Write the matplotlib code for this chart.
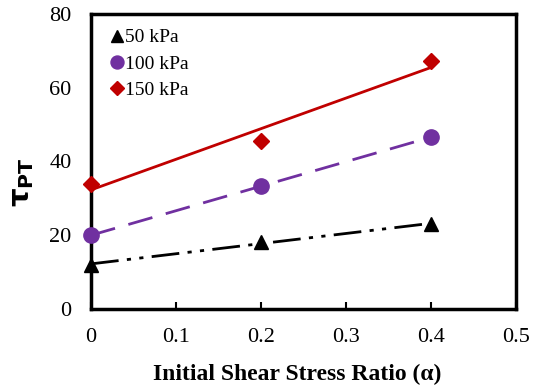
import numpy as np
import matplotlib.pyplot as plt

plt.rcParams['font.family'] = ['Liberation Serif', 'DejaVu Sans']
plt.rcParams['mathtext.fontset'] = 'dejavusans'

# initial shear stress ratio and tau_PT for each confining pressure
alpha = [0.0, 0.2, 0.4]
tau_50 = [12.0, 18.2, 23.0]
tau_100 = [20.0, 33.3, 46.6]
tau_150 = [34.0, 45.5, 67.2]

labels = ['50 kPa', '100 kPa', '150 kPa']
colors = ['black', '#7030A0', '#C00000']
markers = ['^', 'o', 'D']
msizes = [10.5, 11, 8]
styles = [(0, (10, 3, 1.5, 3, 1.5, 3)), (0, (9, 5)), '-']

fig = plt.figure(figsize=(5.36, 3.88), dpi=100)
ax = fig.add_axes([91 / 536, 1 - 309 / 388, 425 / 536, 295 / 388])

x = np.array(alpha)
for y, lab, c, m, ms, ls in zip([tau_50, tau_100, tau_150], labels, colors,
                                 markers, msizes, styles):
    # linear trendline through the measured points
    k, b = np.polyfit(x, y, 1)
    ax.plot(x, k * x + b, color=c, linestyle=ls, linewidth=2, zorder=2)
    ax.plot(x, y, linestyle='none', marker=m, color=c, markersize=ms,
            label=lab, clip_on=False, zorder=3)

ax.set_xlim(0, 0.5)
ax.set_ylim(0, 80)
ax.set_xticks([0, 0.1, 0.2, 0.3, 0.4, 0.5])
ax.set_xticklabels(['0', '0.1', '0.2', '0.3', '0.4', '0.5'])
ax.set_yticks([0, 20, 40, 60, 80])
ax.tick_params(axis='x', direction='in', length=5, width=1.5, labelsize=16, pad=14)
ax.tick_params(axis='y', length=0, labelsize=16, pad=14)
for sp in ax.spines.values():
    sp.set_linewidth(2.5)

ax.set_xlabel('Initial Shear Stress Ratio (α)', fontsize=17, fontweight='bold')
ax.xaxis.set_label_coords(0.485, -0.185)
ax.set_ylabel(r'$\mathbf{\tau_{PT}}$', fontsize=21)
ax.yaxis.set_label_coords(-0.13, 0.43)

leg = ax.legend(loc='upper left', frameon=False, fontsize=14, handletextpad=0.0,
                handlelength=0.8, labelspacing=0.45, borderaxespad=0,
                borderpad=0, markerscale=0.85, bbox_to_anchor=(0.043, 0.95))

fig.savefig('out.png', dpi=100)
